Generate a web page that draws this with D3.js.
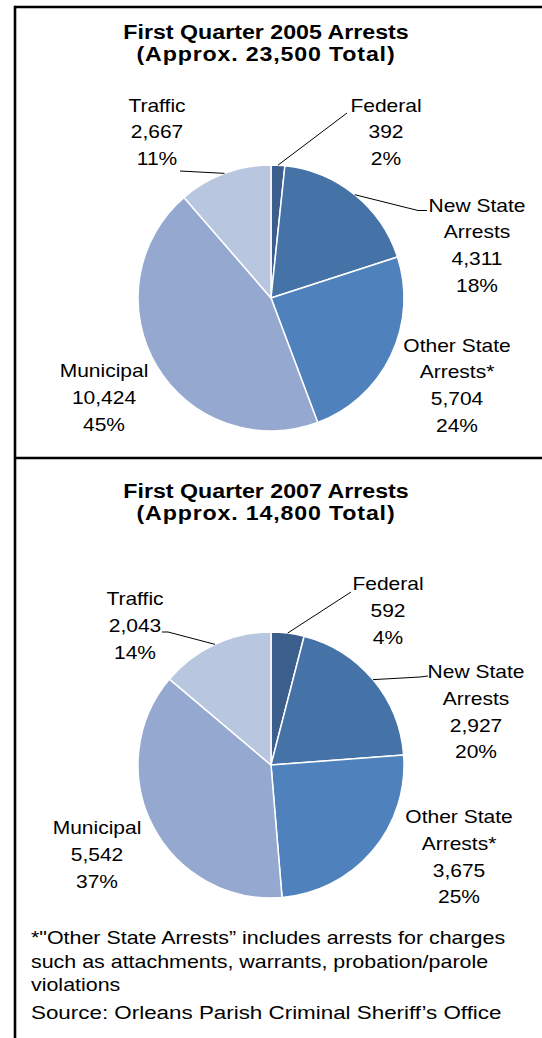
<!DOCTYPE html>
<html>
<head>
<meta charset="utf-8">
<script src="https://cdn.jsdelivr.net/npm/d3@7"></script>
<style>
  html, body { margin: 0; padding: 0; background: #fff; }
  svg { display: block; font-family: "Liberation Sans", Arial, sans-serif; }
</style>
</head>
<body>
<div id="chart"></div>
<script>
// data
const categories = ["Federal", "New State Arrests", "Other State Arrests*", "Municipal", "Traffic"];
const labelNames = [["Federal"], ["New State", "Arrests"], ["Other State", "Arrests*"], ["Municipal"], ["Traffic"]];
const colors = ["#3b5e8d", "#4572a7", "#4f81bd", "#95a8cf", "#b9c6df"];

const values2005 = [392, 4311, 5704, 10424, 2667];
const percents2005 = ["2%", "18%", "24%", "45%", "11%"];
const title2005 = ["First Quarter 2005 Arrests", "(Approx. 23,500 Total)"];

const values2007 = [592, 2927, 3675, 5542, 2043];
const percents2007 = ["4%", "20%", "25%", "37%", "14%"];
const title2007 = ["First Quarter 2007 Arrests", "(Approx. 14,800 Total)"];

const footnote = [
  "*\"Other State Arrests\u201d includes arrests for charges",
  "such as attachments, warrants, probation/parole",
  "violations"
];
const source = "Source: Orleans Parish Criminal Sheriff\u2019s Office";

const width = 542, height = 1038;
const SX = 1.2;      // the picture's text is a little stretched sideways
const R = 133;
const fmt = d3.format(",");

// label placement per panel: [x, first baseline], leader bend/end points
const panels = [
  {
    values: values2005, percents: percents2005, title: title2005,
    cx: 271, cy: 298, titleY: 38.5,
    labels: [[386, 111.5], [477, 211.5], [457, 351.5], [104, 377], [157, 111.5]],
    leaders: { 0: [[347, 113]], 1: [[418, 210.5], [427, 210.5]], 4: [[180, 171]] }
  },
  {
    values: values2007, percents: percents2007, title: title2007,
    cx: 271, cy: 765, titleY: 497.5,
    labels: [[388, 590], [476, 678], [459, 823], [97, 834], [135, 605]],
    leaders: { 0: [[351, 592]], 1: [[420, 677], [428, 676]], 4: [[168, 632], [162, 632]] }
  }
];

const svg = d3.select("#chart")
  .append("svg")
  .attr("width", width)
  .attr("height", height);

// frame lines
svg.append("line")
  .attr("x1", 15).attr("y1", 5.8).attr("x2", 15).attr("y2", height)
  .attr("stroke", "#000").attr("stroke-width", 2.6);
[7, 458].forEach(y => {
  svg.append("line")
    .attr("x1", 15).attr("y1", y).attr("x2", width).attr("y2", y)
    .attr("stroke", "#000").attr("stroke-width", 2.6);
});

function stretchedText(parent, x, y, str, size, weight, anchor, sx) {
  return parent.append("text")
    .attr("transform", `translate(${x},${y}) scale(${sx || SX},1)`)
    .attr("text-anchor", anchor)
    .attr("font-size", size)
    .attr("font-weight", weight)
    .attr("fill", "#000")
    .text(str);
}

const pie = d3.pie().sort(null).value(d => d);
const arc = d3.arc().innerRadius(0).outerRadius(R);
const edge = d3.arc().innerRadius(R).outerRadius(R);

panels.forEach(p => {
  // title
  p.title.forEach((t, i) => {
    stretchedText(svg, 266, p.titleY + i * 22, t, 19.5, "bold", "middle", 1.19)
      .attr("letter-spacing", i ? 0.7 : 0);
  });

  const g = svg.append("g").attr("transform", `translate(${p.cx},${p.cy})`);
  const arcs = pie(p.values);

  g.selectAll("path.slice")
    .data(arcs)
    .enter()
    .append("path")
    .attr("class", "slice")
    .attr("d", arc)
    .attr("fill", (d, i) => colors[i])
    .attr("stroke", "#fff")
    .attr("stroke-width", 1.5);

  // leader lines from the slice edge
  arcs.forEach((d, i) => {
    if (!p.leaders[i]) return;
    const start = edge.centroid(d).map((v, k) => v + (k ? p.cy : p.cx));
    const pts = [start].concat(p.leaders[i]);
    svg.append("path")
      .attr("d", d3.line()(pts))
      .attr("fill", "none")
      .attr("stroke", "#000")
      .attr("stroke-width", 1);
  });

  // data labels
  arcs.forEach((d, i) => {
    const [lx, ly] = p.labels[i];
    const lines = labelNames[i].concat([fmt(p.values[i]), p.percents[i]]);
    lines.forEach((t, k) => {
      stretchedText(svg, lx, ly + k * 26.8, t, 17.5, "normal", "middle");
    });
  });
});

// footnote
footnote.forEach((t, i) => {
  stretchedText(svg, 31, 944 + i * 23.6, t, 17.5, "normal", "start", 1.225);
});
stretchedText(svg, 31, 1018.5, source, 18.2, "normal", "start", 1.23);
</script>
</body>
</html>
